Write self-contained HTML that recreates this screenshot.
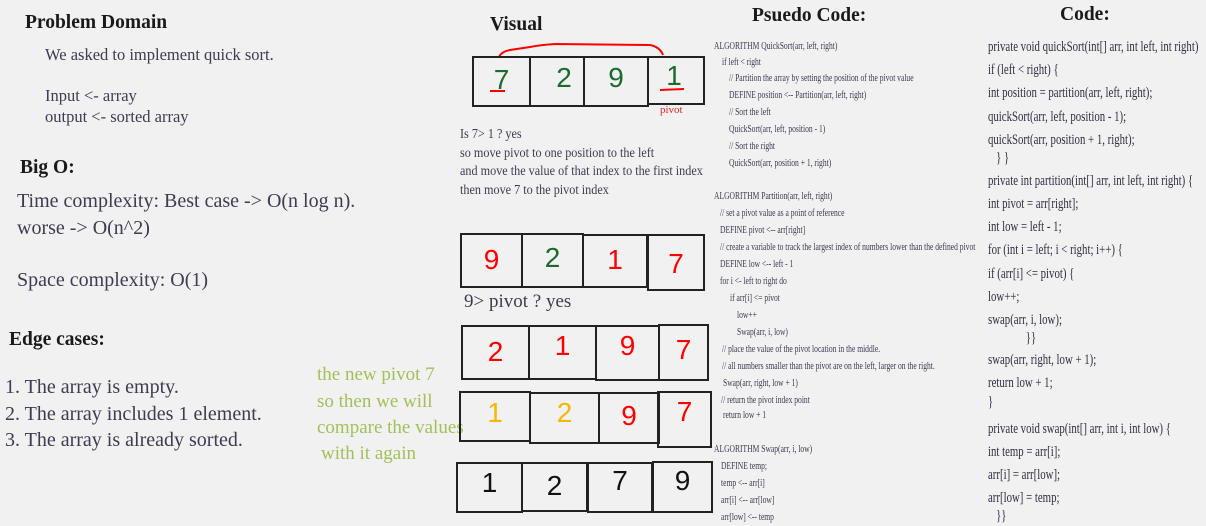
<!DOCTYPE html>
<html><head><meta charset="utf-8"><style>
body{margin:0;width:1206px;height:526px;background:#f1f1f1;position:relative;overflow:hidden;font-family:"Liberation Serif",serif;color:#3c3c52}
.a{position:absolute;white-space:nowrap}
h{position:absolute;font-weight:bold;color:#1a1a1a;white-space:nowrap;font-size:19.5px}
.b{position:absolute;border:2px solid #222;box-sizing:border-box}
.d{position:absolute;font-family:"Liberation Sans",sans-serif;font-size:28px;text-align:center}
.c{position:absolute;left:988px;font-size:15px;line-height:18px;transform:scaleX(.72);transform-origin:0 50%;white-space:nowrap;color:#2f2f45}
.p{position:absolute;font-size:10.5px;line-height:14px;transform:scaleX(.72);transform-origin:0 50%;white-space:nowrap;color:#3a3a55}
.t{position:absolute;left:460px;font-size:14px;line-height:16px;transform:scaleX(.87);transform-origin:0 50%;white-space:nowrap}
.g{position:absolute;left:317px;font-size:19px;color:#a2c05a;white-space:nowrap}
</style></head><body>
<h style="left:25px;top:12px">Problem Domain</h>
<div class="a" style="left:45px;top:45px;font-size:16.5px">We asked to implement quick sort.</div>
<div class="a" style="left:45px;top:86px;font-size:16.5px">Input &lt;- array</div>
<div class="a" style="left:45px;top:107px;font-size:16.5px">output &lt;- sorted array</div>
<h style="left:20px;top:157px">Big O:</h>
<div class="a" style="left:17px;top:190px;font-size:20px">Time complexity: Best case -&gt; O(n log n).</div>
<div class="a" style="left:17px;top:217px;font-size:20px">worse -&gt; O(n^2)</div>
<div class="a" style="left:17px;top:269px;font-size:20px">Space complexity: O(1)</div>
<h style="left:9px;top:329px">Edge cases:</h>
<div class="a" style="left:5px;top:376px;font-size:20px">1. The array is empty.</div>
<div class="a" style="left:5px;top:403px;font-size:20px">2. The array includes 1 element.</div>
<div class="a" style="left:5px;top:429px;font-size:20px">3. The array is already sorted.</div>
<div class="g" style="top:364px">the new pivot 7</div>
<div class="g" style="top:391px">so then we will</div>
<div class="g" style="top:417px">compare the values</div>
<div class="g" style="top:443px;left:321px">with it again</div>

<h style="left:490px;top:14px">Visual</h>
<h style="left:752px;top:5px">Psuedo Code:</h>
<h style="left:1060px;top:4px">Code:</h>

<svg style="position:absolute;left:0;top:0" width="1206" height="526">
<path d="M499 58 Q500 52 510 50 L530 47 Q540 45 555 44 L650 45 Q660 47 663 55" fill="none" stroke="#f00" stroke-width="2"/>
<line x1="490" y1="91" x2="505" y2="91" stroke="#f00" stroke-width="2"/>
<line x1="660" y1="90" x2="684" y2="89" stroke="#f00" stroke-width="2"/>
</svg>

<div class="b" style="left:472px;top:56px;width:59px;height:51px"></div>
<div class="b" style="left:529px;top:56px;width:56px;height:51px"></div>
<div class="b" style="left:583px;top:56px;width:66px;height:51px"></div>
<div class="b" style="left:647px;top:56px;width:58px;height:49px"></div>
<div class="d" style="left:472px;top:64px;width:59px;color:#1b6b2c">7</div>
<div class="d" style="left:529px;top:62px;width:70px;color:#1b6b2c">2</div>
<div class="d" style="left:583px;top:62px;width:66px;color:#1b6b2c">9</div>
<div class="d" style="left:647px;top:60px;width:54px;color:#1b6b2c">1</div>
<div class="a" style="left:660px;top:104px;font-size:11px;color:#e22">pivot</div>

<div class="t" style="top:127px">Is 7&gt; 1 ? yes</div>
<div class="t" style="top:146px">so move pivot to one position to the left</div>
<div class="t" style="top:164px">and move the value of that index to the first index</div>
<div class="t" style="top:183px">then move 7 to the pivot index</div>

<div class="b" style="left:460px;top:233px;width:63px;height:55px"></div>
<div class="b" style="left:521px;top:233px;width:63px;height:55px"></div>
<div class="b" style="left:582px;top:234px;width:66px;height:54px"></div>
<div class="b" style="left:647px;top:234px;width:58px;height:57px"></div>
<div class="d" style="left:460px;top:244px;width:63px;color:#f00">9</div>
<div class="d" style="left:521px;top:242px;width:63px;color:#1b6b2c">2</div>
<div class="d" style="left:582px;top:244px;width:66px;color:#f00">1</div>
<div class="d" style="left:647px;top:248px;width:58px;color:#f00">7</div>
<div class="a" style="left:464px;top:291px;font-size:19px">9&gt; pivot ? yes</div>

<div class="b" style="left:461px;top:325px;width:69px;height:55px"></div>
<div class="b" style="left:528px;top:325px;width:69px;height:55px"></div>
<div class="b" style="left:595px;top:325px;width:65px;height:56px"></div>
<div class="b" style="left:658px;top:324px;width:51px;height:57px"></div>
<div class="d" style="left:461px;top:336px;width:69px;color:#f00">2</div>
<div class="d" style="left:528px;top:330px;width:69px;color:#f00">1</div>
<div class="d" style="left:595px;top:330px;width:65px;color:#f00">9</div>
<div class="d" style="left:658px;top:334px;width:51px;color:#f00">7</div>

<div class="b" style="left:459px;top:391px;width:72px;height:51px"></div>
<div class="b" style="left:529px;top:392px;width:71px;height:52px"></div>
<div class="b" style="left:598px;top:392px;width:62px;height:52px"></div>
<div class="b" style="left:657px;top:391px;width:55px;height:57px"></div>
<div class="d" style="left:459px;top:397px;width:72px;color:#f5b800">1</div>
<div class="d" style="left:529px;top:397px;width:71px;color:#f5b800">2</div>
<div class="d" style="left:598px;top:400px;width:62px;color:#f00">9</div>
<div class="d" style="left:657px;top:396px;width:55px;color:#f00">7</div>

<div class="b" style="left:456px;top:462px;width:67px;height:51px"></div>
<div class="b" style="left:521px;top:462px;width:67px;height:50px"></div>
<div class="b" style="left:587px;top:462px;width:66px;height:51px"></div>
<div class="b" style="left:652px;top:461px;width:61px;height:52px"></div>
<div class="d" style="left:456px;top:467px;width:67px;color:#111">1</div>
<div class="d" style="left:521px;top:470px;width:67px;color:#111">2</div>
<div class="d" style="left:587px;top:465px;width:66px;color:#111">7</div>
<div class="d" style="left:652px;top:465px;width:61px;color:#111">9</div>

<div class="p" style="left:714px;top:40px">ALGORITHM QuickSort(arr, left, right)</div>
<div class="p" style="left:722px;top:56px">if left &lt; right</div>
<div class="p" style="left:729px;top:72px">// Partition the array by setting the position of the pivot value</div>
<div class="p" style="left:729px;top:89px">DEFINE position &lt;-- Partition(arr, left, right)</div>
<div class="p" style="left:729px;top:106px">// Sort the left</div>
<div class="p" style="left:729px;top:123px">QuickSort(arr, left, position - 1)</div>
<div class="p" style="left:729px;top:140px">// Sort the right</div>
<div class="p" style="left:729px;top:157px">QuickSort(arr, position + 1, right)</div>
<div class="p" style="left:714px;top:190px">ALGORITHM Partition(arr, left, right)</div>
<div class="p" style="left:720px;top:207px">// set a pivot value as a point of reference</div>
<div class="p" style="left:720px;top:224px">DEFINE pivot &lt;-- arr[right]</div>
<div class="p" style="left:720px;top:241px">// create a variable to track the largest index of numbers lower than the defined pivot</div>
<div class="p" style="left:720px;top:258px">DEFINE low &lt;-- left - 1</div>
<div class="p" style="left:720px;top:275px">for i &lt;- left to right do</div>
<div class="p" style="left:730px;top:292px">if arr[i] &lt;= pivot</div>
<div class="p" style="left:737px;top:309px">low++</div>
<div class="p" style="left:737px;top:326px">Swap(arr, i, low)</div>
<div class="p" style="left:722px;top:343px">// place the value of the pivot location in the middle.</div>
<div class="p" style="left:722px;top:360px">// all numbers smaller than the pivot are on the left, larger on the right.</div>
<div class="p" style="left:723px;top:377px">Swap(arr, right, low + 1)</div>
<div class="p" style="left:721px;top:394px">// return the pivot index point</div>
<div class="p" style="left:723px;top:409px">return low + 1</div>
<div class="p" style="left:714px;top:443px">ALGORITHM Swap(arr, i, low)</div>
<div class="p" style="left:721px;top:460px">DEFINE temp;</div>
<div class="p" style="left:721px;top:477px">temp &lt;-- arr[i]</div>
<div class="p" style="left:721px;top:494px">arr[i] &lt;-- arr[low]</div>
<div class="p" style="left:721px;top:511px">arr[low] &lt;-- temp</div>

<div class="c" style="top:38px">private void quickSort(int[] arr, int left, int right)</div>
<div class="c" style="top:61px">if (left &lt; right) {</div>
<div class="c" style="top:84px">int position = partition(arr, left, right);</div>
<div class="c" style="top:108px">quickSort(arr, left, position - 1);</div>
<div class="c" style="top:131px">quickSort(arr, position + 1, right);</div>
<div class="c" style="top:149px">&nbsp;&nbsp;&nbsp;} }</div>
<div class="c" style="top:172px">private int partition(int[] arr, int left, int right) {</div>
<div class="c" style="top:195px">int pivot = arr[right];</div>
<div class="c" style="top:218px">int low = left - 1;</div>
<div class="c" style="top:241px">for (int i = left; i &lt; right; i++) {</div>
<div class="c" style="top:265px">if (arr[i] &lt;= pivot) {</div>
<div class="c" style="top:288px">low++;</div>
<div class="c" style="top:311px">swap(arr, i, low);</div>
<div class="c" style="top:329px">&nbsp;&nbsp;&nbsp;&nbsp;&nbsp;&nbsp;&nbsp;&nbsp;&nbsp;&nbsp;&nbsp;&nbsp;&nbsp;&nbsp;}}</div>
<div class="c" style="top:351px">swap(arr, right, low + 1);</div>
<div class="c" style="top:374px">return low + 1;</div>
<div class="c" style="top:393px">}</div>
<div class="c" style="top:420px">private void swap(int[] arr, int i, int low) {</div>
<div class="c" style="top:443px">int temp = arr[i];</div>
<div class="c" style="top:466px">arr[i] = arr[low];</div>
<div class="c" style="top:489px">arr[low] = temp;</div>
<div class="c" style="top:507px">&nbsp;&nbsp;&nbsp;}}</div>
</body></html>
